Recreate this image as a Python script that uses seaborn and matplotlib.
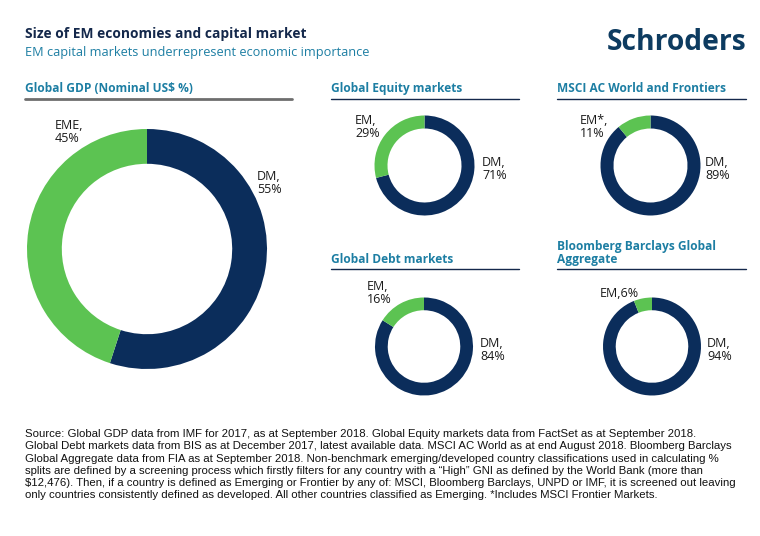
import matplotlib
matplotlib.use("Agg")
import matplotlib.pyplot as plt
import seaborn as sns
from matplotlib.font_manager import fontManager

sns.set_theme(style="white")
plt.rcParams['font.family'] = ['Open Sans', 'DejaVu Sans']

# ---- data ----
panel_titles = ["Global GDP (Nominal US$ %)", "Global Equity markets",
                "MSCI AC World and Frontiers", "Global Debt markets",
                "Bloomberg Barclays Global\nAggregate"]
dm_labels = ["DM", "DM", "DM", "DM", "DM"]
em_labels = ["EME", "EM", "EM*", "EM", "EM"]
dm_values = [55, 71, 89, 84, 94]
em_values = [45, 29, 11, 16, 6]

NAVY = "#0b2d5b"
GREEN = "#5cc352"
TEAL = "#1d7ea3"
TITLE = "#14284b"

W, H = 760, 536
fig = plt.figure(figsize=(W / 100, H / 100), dpi=100)
fig.patch.set_facecolor("white")

names = {f.name for f in fontManager.ttflist}
narrow = 'Liberation Sans Narrow' if 'Liberation Sans Narrow' in names else 'Liberation Sans'


def fx(x):
    return x / W


def fy(y):
    return 1 - y / H


def text(x, y, s, **kw):
    fig.text(fx(x), fy(y), s, **kw)


def hline(x0, x1, y, color, lw):
    fig.add_artist(plt.Line2D([fx(x0), fx(x1)], [fy(y), fy(y)], color=color,
                              lw=lw, transform=fig.transFigure))


# titles
text(25, 38, "Size of EM economies and capital market", fontsize=9.95,
     fontweight="bold", color=TITLE, va="baseline")
text(25, 56, "EM capital markets underrepresent economic importance",
     fontsize=9.2, color=TEAL, va="baseline")
text(746, 50, "Schroders", fontsize=20.3, fontweight="bold", color="#0d3b60",
     ha="right", va="baseline")

# panel geometry: (cx, cy, r, ring width, header x0, x1, header y, line y, line style)
panels = [
    (147, 249, 120, 0.29, 25, 292, 92, 99, ("#6e6e6e", 2.0)),
    (424.5, 165.5, 50, 0.26, 331, 519, 92, 99, (TITLE, 1.0)),
    (650.5, 165.5, 50, 0.26, 557, 746, 92, 99, (TITLE, 1.0)),
    (424, 346.5, 49, 0.26, 331, 519, 263, 269, (TITLE, 1.0)),
    (652, 346.5, 49, 0.26, 557, 746, 263, 269, (TITLE, 1.0)),
]

# label positions (top-left of text) in pixels
em_pos = [(55, 119), (355, 114), (580, 114), (367, 280), (600, 287)]
dm_pos = [(257, 170), (482, 156), (705, 156), (480, 337), (707, 337)]

for i, (cx, cy, r, wd, hx0, hx1, hy, ly, (lc, llw)) in enumerate(panels):
    ax = fig.add_axes([fx(cx - r), fy(cy + r), 2 * r / W, 2 * r / H])
    ax.pie([dm_values[i], em_values[i]], colors=[NAVY, GREEN], startangle=90,
           counterclock=False, radius=1, wedgeprops=dict(width=wd, linewidth=0))
    ax.set_xlim(-1, 1)
    ax.set_ylim(-1, 1)
    ax.set_aspect("auto")
    ax.axis("off")

    text(hx0, hy, panel_titles[i], fontsize=8.6, fontweight="bold",
         color=TEAL, va="baseline", linespacing=1.05)
    hline(hx0, hx1, ly, lc, llw)

    if i == 4:
        em_txt = f"{em_labels[i]},{em_values[i]}%"
    else:
        em_txt = f"{em_labels[i]},\n{em_values[i]}%"
    ex, ey = em_pos[i]
    text(ex, ey, em_txt, fontsize=9.0, color="#1a1a1a", va="top",
         linespacing=0.98)
    dx, dy = dm_pos[i]
    text(dx, dy, f"{dm_labels[i]},\n{dm_values[i]}%", fontsize=9.0,
         color="#1a1a1a", va="top", linespacing=0.98)

footnote = [
    "Source: Global GDP data from IMF for 2017, as at September 2018. Global Equity markets data from FactSet as at September 2018.",
    "Global Debt markets data from BIS as at December 2017, latest available data. MSCI AC World as at end August 2018. Bloomberg Barclays",
    "Global Aggregate data from FIA as at September 2018. Non-benchmark emerging/developed country classifications used in calculating %",
    "splits are defined by a screening process which firstly filters for any country with a \u201cHigh\u201d GNI as defined by the World Bank (more than",
    "$12,476). Then, if a country is defined as Emerging or Frontier by any of: MSCI, Bloomberg Barclays, UNPD or IMF, it is screened out leaving",
    "only countries consistently defined as developed. All other countries classified as Emerging. *Includes MSCI Frontier Markets.",
]
for k, line in enumerate(footnote):
    text(25, 437 + k * 12.3, line, fontsize=8.2, family=[narrow, 'DejaVu Sans'],
         color="#111111", va="baseline")

fig.savefig("out.png", dpi=100, facecolor="white")
